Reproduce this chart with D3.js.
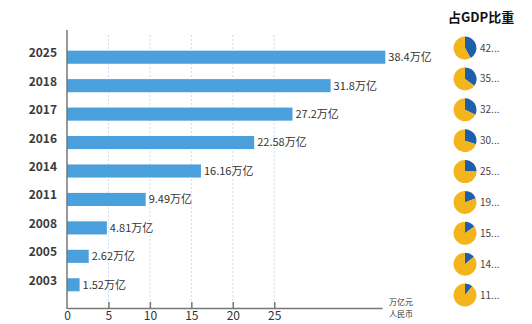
<!DOCTYPE html>
<html>
<head>
<meta charset="utf-8">
<script src="https://cdn.jsdelivr.net/npm/d3@7"></script>
<style>
  body { margin: 0; background: #fff; }
  svg { display: block; font-family: "Noto Sans CJK SC", "Noto Sans", sans-serif; }
</style>
</head>
<body>
<div id="chart"></div>
<script>
"use strict"

// data
var years = ['2025', '2018', '2017', '2016', '2014', '2011', '2008', '2005', '2003'];
var values = [38.4, 31.8, 27.2, 22.58, 16.16, 9.49, 4.81, 2.62, 1.52];
var gdpShare = [42, 35, 32, 30, 25, 19, 15, 14, 11];
var xTicks = [0, 5, 10, 15, 20, 25];

var width = 532, height = 324;
var svg = d3.select("#chart").append("svg")
    .attr("width", width)
    .attr("height", height);

// scales
var x = d3.scaleLinear().domain([0, 38]).range([67, 382]);
var y = d3.scaleBand().domain(years).range([43, 299]).paddingInner(0.54).paddingOuter(0.27);
var yPie = d3.scalePoint().domain(years).range([48, 295]);

// dashed gridlines
svg.append("g")
    .selectAll("line")
    .data(xTicks.slice(1))
    .enter()
    .append("line")
    .attr("x1", function(d) { return x(d); })
    .attr("x2", function(d) { return x(d); })
    .attr("y1", 35)
    .attr("y2", 308)
    .attr("stroke", "#c9dcf2")
    .attr("stroke-width", 1)
    .attr("stroke-dasharray", "2,2");

// bars
svg.append("g")
    .selectAll("rect")
    .data(values)
    .enter()
    .append("rect")
    .attr("x", x(0))
    .attr("y", function(d, i) { return y(years[i]); })
    .attr("width", function(d) { return x(d) - x(0); })
    .attr("height", y.bandwidth())
    .attr("fill", "#4a9fdd");

// value labels
svg.append("g")
    .selectAll("text")
    .data(values)
    .enter()
    .append("text")
    .attr("x", function(d) { return x(d) + 3; })
    .attr("y", function(d, i) { return y(years[i]) + y.bandwidth() / 2; })
    .attr("dy", "0.35em")
    .attr("font-size", 11)
    .attr("fill", "#333")
    .text(function(d) { return d + "万亿"; });

// x axis, ticks pointing inward
var xAxis = svg.append("g")
    .attr("transform", "translate(0,308)")
    .call(d3.axisBottom(x).tickValues(xTicks).tickSize(-6).tickPadding(3).tickSizeOuter(0));
xAxis.select(".domain").attr("stroke", "#777").attr("stroke-width", 1.5);
xAxis.selectAll(".tick line").attr("stroke", "#777").attr("stroke-width", 1.5);
xAxis.selectAll(".tick").filter(function(d) { return d === 0; }).select("line").remove();
xAxis.selectAll("text")
    .attr("font-size", 12)
    .attr("fill", "#333")
    .attr("font-family", "\"Noto Sans CJK SC\", sans-serif");

// y axis
var yAxis = svg.append("g")
    .attr("transform", "translate(" + x(0) + ",0)")
    .call(d3.axisLeft(y).tickSize(0).tickPadding(10));
yAxis.select(".domain").remove();
yAxis.selectAll("text")
    .attr("font-size", 12)
    .attr("font-weight", "bold")
    .attr("fill", "#3a3a3a")
    .attr("dy", "0.0em")
    .attr("font-family", "\"Noto Sans CJK SC\", sans-serif");
svg.append("line")
    .attr("x1", x(0)).attr("x2", x(0))
    .attr("y1", 30).attr("y2", 309)
    .attr("stroke", "#777")
    .attr("stroke-width", 1.5);

// unit label, two lines
svg.append("text")
    .attr("x", 389).attr("y", 305)
    .attr("font-size", 8)
    .attr("fill", "#333")
    .text("万亿元");
svg.append("text")
    .attr("x", 389).attr("y", 317)
    .attr("font-size", 8)
    .attr("fill", "#333")
    .text("人民币");

// GDP share pies
svg.append("text")
    .attr("x", 448).attr("y", 22)
    .attr("font-size", 13)
    .attr("font-weight", "bold")
    .attr("fill", "#111")
    .text("占GDP比重");

var pie = d3.pie().sort(null).value(function(d) { return d; });
var arc = d3.arc().innerRadius(0).outerRadius(11.5);
var pieColors = ['#1f5fa9', '#f3b51c'];

var pies = svg.append("g")
    .selectAll("g")
    .data(gdpShare)
    .enter()
    .append("g")
    .attr("transform", function(d, i) { return "translate(465," + yPie(years[i]) + ")"; });

pies.selectAll("path")
    .data(function(d) { return pie([d, 100 - d]); })
    .enter()
    .append("path")
    .attr("d", arc)
    .attr("fill", function(d, i) { return pieColors[i]; });

pies.append("text")
    .attr("x", 15)
    .attr("dy", "0.35em")
    .attr("font-size", 10)
    .attr("fill", "#444")
    .text(function(d) { return d + "..."; });
</script>
</body>
</html>
